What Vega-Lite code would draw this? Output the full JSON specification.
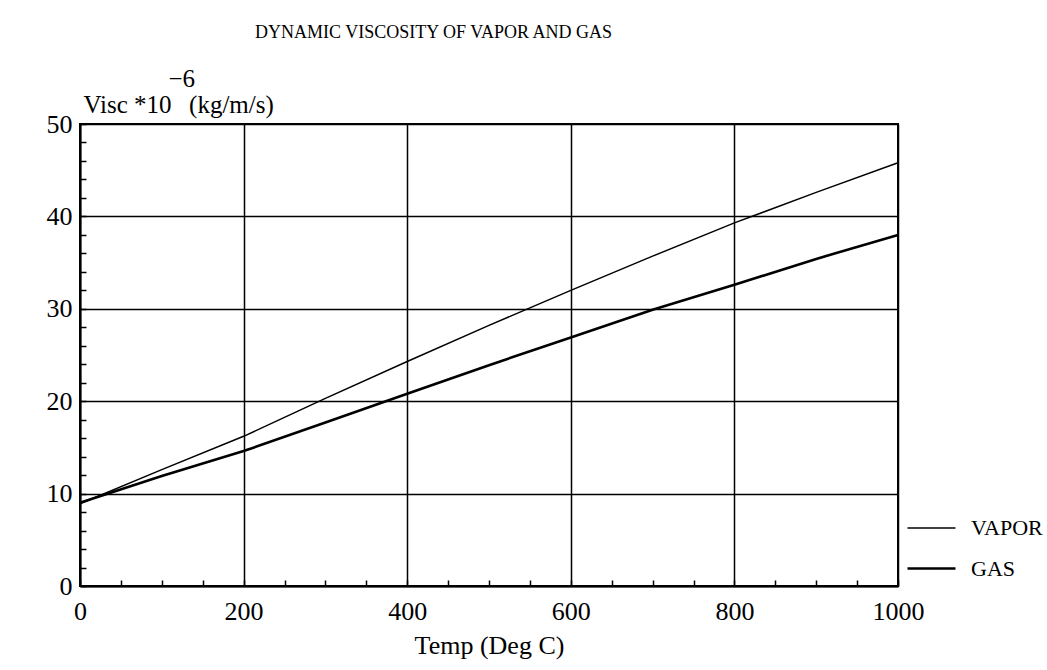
{
  "$schema": "https://vega.github.io/schema/vega-lite/v6.json",
  "autosize": {"type": "none"},
  "padding": {"left": 80, "top": 124, "right": 149, "bottom": 84},
  "width": 818,
  "height": 462,
  "background": "white",
  "title": {
    "text": "DYNAMIC VISCOSITY OF VAPOR AND GAS",
    "font": "Liberation Serif",
    "fontSize": 18,
    "fontWeight": "normal",
    "color": "black",
    "anchor": "start",
    "frame": "group",
    "dx": 175,
    "offset": 24
  },
  "config": {
    "view": {"stroke": "black", "strokeWidth": 2},
    "font": "Liberation Serif"
  },
  "data": {
    "values": [
      {"t": 0, "v": 8.9, "s": "VAPOR"},
      {"t": 100, "v": 12.6, "s": "VAPOR"},
      {"t": 200, "v": 16.2, "s": "VAPOR"},
      {"t": 300, "v": 20.3, "s": "VAPOR"},
      {"t": 400, "v": 24.3, "s": "VAPOR"},
      {"t": 500, "v": 28.2, "s": "VAPOR"},
      {"t": 600, "v": 32.0, "s": "VAPOR"},
      {"t": 700, "v": 35.7, "s": "VAPOR"},
      {"t": 800, "v": 39.3, "s": "VAPOR"},
      {"t": 900, "v": 42.6, "s": "VAPOR"},
      {"t": 1000, "v": 45.8, "s": "VAPOR"},
      {"t": 0, "v": 9.0, "s": "GAS"},
      {"t": 100, "v": 11.9, "s": "GAS"},
      {"t": 200, "v": 14.6, "s": "GAS"},
      {"t": 300, "v": 17.7, "s": "GAS"},
      {"t": 400, "v": 20.8, "s": "GAS"},
      {"t": 500, "v": 23.9, "s": "GAS"},
      {"t": 600, "v": 26.9, "s": "GAS"},
      {"t": 700, "v": 29.9, "s": "GAS"},
      {"t": 800, "v": 32.6, "s": "GAS"},
      {"t": 900, "v": 35.4, "s": "GAS"},
      {"t": 1000, "v": 38.0, "s": "GAS"}
    ]
  },
  "mark": {"type": "line", "color": "black"},
  "encoding": {
    "x": {
      "field": "t",
      "type": "quantitative",
      "scale": {"domain": [0, 1000], "nice": false, "zero": false},
      "axis": {
        "values": [0, 50, 100, 150, 200, 250, 300, 350, 400, 450, 500, 550, 600, 650, 700, 750, 800, 850, 900, 950, 1000],
        "format": "d",
        "labelExpr": "datum.value % 200 === 0 ? datum.label : ''",
        "labelOverlap": false,
        "labelFlush": false,
        "labelFont": "Liberation Serif",
        "labelFontSize": 26,
        "labelColor": "black",
        "labelPadding": 18,
        "tickSize": -6,
        "tickColor": "black",
        "tickWidth": 1.5,
        "domainColor": "black",
        "domainWidth": 2,
        "grid": true,
        "gridColor": "black",
        "gridWidth": 1.5,
        "gridOpacity": {"condition": {"test": "datum.value % 200 === 0", "value": 1}, "value": 0},
        "title": "Temp (Deg C)",
        "titleFont": "Liberation Serif",
        "titleFontSize": 26,
        "titleFontWeight": "normal",
        "titleColor": "black",
        "titlePadding": 8
      }
    },
    "y": {
      "field": "v",
      "type": "quantitative",
      "scale": {"domain": [0, 50], "nice": false},
      "axis": {
        "values": [0, 2, 4, 6, 8, 10, 12, 14, 16, 18, 20, 22, 24, 26, 28, 30, 32, 34, 36, 38, 40, 42, 44, 46, 48, 50],
        "labelExpr": "datum.value % 10 === 0 ? datum.label : ''",
        "labelOverlap": false,
        "labelFlush": false,
        "labelFont": "Liberation Serif",
        "labelFontSize": 26,
        "labelColor": "black",
        "labelPadding": 14,
        "tickSize": -6,
        "tickColor": "black",
        "tickWidth": 1.5,
        "domainColor": "black",
        "domainWidth": 2,
        "grid": true,
        "gridColor": "black",
        "gridWidth": 1.5,
        "gridOpacity": {"condition": {"test": "datum.value % 10 === 0", "value": 1}, "value": 0},
        "title": ["\u200b\u2002\u2002\u2002\u2002\u2002\u2002\u2009\u2009−6", "Visc *10\u2002\u2009(kg/m/s)"],
        "titleFont": "Liberation Serif",
        "titleFontSize": 25,
        "titleFontWeight": "normal",
        "titleColor": "black",
        "titleAngle": 0,
        "titleAlign": "left",
        "titleBaseline": "alphabetic",
        "titleLineHeight": 26,
        "titleX": 3,
        "titleY": -38
      }
    },
    "strokeWidth": {
      "field": "s",
      "type": "ordinal",
      "scale": {"domain": ["VAPOR", "GAS"], "range": [1.5, 2.6]},
      "legend": {
        "title": null,
        "orient": "none",
        "legendX": 826,
        "legendY": 379,
        "symbolType": "stroke",
        "symbolSize": 2304,
        "symbolStrokeColor": "black",
        "labelFont": "Liberation Serif",
        "labelFontSize": 22,
        "labelColor": "black",
        "labelOffset": 14,
        "rowPadding": 4
      }
    }
  }
}
